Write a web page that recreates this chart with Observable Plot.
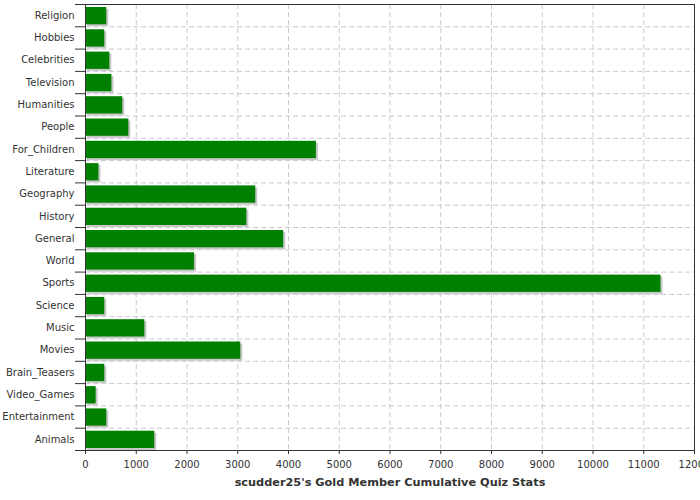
<!DOCTYPE html>
<html>
<head>
<meta charset="utf-8">
<script src="https://cdn.jsdelivr.net/npm/d3@7"></script>
<script src="https://cdn.jsdelivr.net/npm/@observablehq/plot@0.6"></script>
<style>
  body { margin: 0; background: #fff; }
  svg { font-family: "DejaVu Sans", sans-serif; }
</style>
</head>
<body>
<div id="chart"></div>
<script>
const categories = ["Religion","Hobbies","Celebrities","Television","Humanities","People","For_Children","Literature","Geography","History","General","World","Sports","Science","Music","Movies","Brain_Teasers","Video_Games","Entertainment","Animals"];
const values = [420, 380, 480, 520, 735, 855, 4550, 265, 3355, 3180, 3905, 2150, 11340, 380, 1170, 3060, 380, 210, 420, 1365];
const xTicks = [0,1000,2000,3000,4000,5000,6000,7000,8000,9000,10000,11000,12000];
const title = "scudder25's Gold Member Cumulative Quiz Stats";

const data = categories.map((c, i) => ({category: c, value: values[i]}));

const W = 700, H = 500, mT = 4, mB = 50, mL = 85, mR = 6;
const step = (H - mT - mB) / categories.length;

const chart = Plot.plot({
  width: W,
  height: H,
  marginTop: mT,
  marginBottom: mB,
  marginLeft: mL,
  marginRight: mR,
  style: {fontFamily: "DejaVu Sans, sans-serif", fontSize: "10px", color: "#333", background: "#fff"},
  x: {domain: [0, 12000]},
  y: {domain: categories, padding: 0, round: false},
  marks: [
    Plot.gridX(xTicks, {stroke: "#c8ccd0", strokeOpacity: 1, strokeDasharray: "5,3"}),
    Plot.ruleY(categories.slice(1), {y: d => d, dy: -step / 2, stroke: "#c8ccd0", strokeDasharray: "5,3"}),
    Plot.barX(data, {y: "category", x: "value", fill: "#c8c8c8", insetTop: 3, insetBottom: 2, dx: 2, dy: 2}),
    Plot.barX(data, {y: "category", x: "value", fill: "#008000", insetTop: 3, insetBottom: 2}),
    Plot.frame({stroke: "#333"}),
    Plot.axisY({tickSize: 0, tickPadding: 11, fontSize: 10, fill: "#333", label: null}),
    Plot.axisY(categories, {text: null, tickSize: 10, dy: -step / 2, stroke: "#333", label: null}),
    Plot.axisY([categories[categories.length - 1]], {text: null, tickSize: 10, dy: step / 2, stroke: "#333", label: null}),
    Plot.axisX(xTicks, {tickSize: 4, tickPadding: 6, fontSize: 10, fill: "#333", stroke: "#333", label: null, tickFormat: d => String(d)}),
    Plot.text([title], {frameAnchor: "bottom", dy: 35, fontWeight: "bold", fontSize: 11.3, fill: "#333", text: d => d})
  ]
});
document.getElementById("chart").appendChild(chart);
</script>
</body>
</html>
